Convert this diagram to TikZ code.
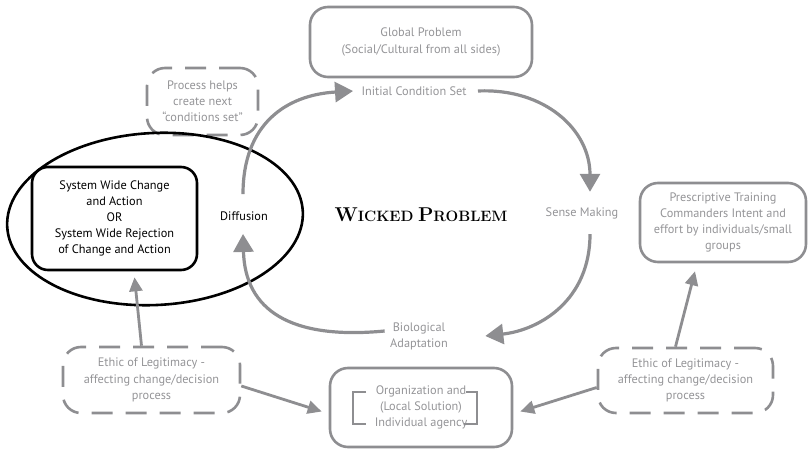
\documentclass[tikz,border=0pt]{standalone}
\usepackage{fontspec}
\setsansfont{PT Sans}
\usepackage{tikz}
\usetikzlibrary{arrows.meta, positioning, shapes.geometric}
\definecolor{linegray}{RGB}{142,142,145}
\definecolor{textgray}{RGB}{148,148,151}
\tikzset{
  graybox/.style={draw=linegray, line width=2.6pt, rounded corners=18pt, text=textgray, align=center, inner sep=0pt},
  dashbox/.style={graybox, dash pattern=on 21pt off 13pt},
  blackbox/.style={draw=black, line width=2.6pt, rounded corners=16pt, align=center, inner sep=0pt},
  cyclelabel/.style={text=textgray, align=center},
  bigflow/.style={draw=linegray, line width=3.2pt, -{Triangle[length=18pt,width=20pt]}},
  smallflow/.style={draw=linegray, line width=2.8pt, -{Triangle[length=14pt,width=13pt]}}
}
\begin{document}
\begin{tikzpicture}[x=1pt, y=-1pt, font=\sffamily\fontsize{12.3}{16.2}\selectfont]
        \useasboundingbox (0,0) rectangle (808,449);
        % Cycle boxes
        \node[graybox, minimum width=222pt, minimum height=70pt] (global) at (421,42) {Global Problem\\(Social/Cultural from all sides)};
        \node[graybox, minimum width=166pt, minimum height=79pt] (presc) at (723,222.5) {Prescriptive Training\\Commanders Intent and\\effort by individuals/small\\groups};
        \node[graybox, minimum width=182pt, minimum height=79pt] (org) at (421,407.5) {Organization and\\(Local Solution)\\Individual agency};
        \node[dashbox, minimum width=111pt, minimum height=67pt] (process) at (202.5,101.5) {Process helps\\create next\\``conditions set''};
        \node[dashbox, minimum width=177pt, minimum height=66pt] (ethicl) at (151.5,380) {Ethic of Legitimacy -\\affecting change/decision\\process};
        \node[dashbox, minimum width=175pt, minimum height=65pt] (ethicr) at (685.5,380.5) {Ethic of Legitimacy -\\affecting change/decision\\process};
        % Outcome inside the ellipse
        \node[draw, ellipse, line width=2.6pt, minimum width=296pt, minimum height=172pt, rotate=3] (scope) at (155,219) {};
        \node[blackbox, minimum width=165pt, minimum height=103pt] (outcome) at (114.5,218.5) {System Wide Change\\and Action\\OR\\System Wide Rejection\\of Change and Action};
        % Labels on the cycle
        \node[cyclelabel] (initial) at (414,91) {Initial Condition Set};
        \node[cyclelabel] (sense) at (582,213) {Sense Making};
        \node[cyclelabel] (bio) at (419,336) {Biological\\Adaptation};
        \node (diffusion) at (244,216) {Diffusion};
        \node (wicked) at (421,215) {\rmfamily\bfseries{\fontsize{20}{20}\selectfont W}{\fontsize{15}{15}\selectfont ICKED} {\fontsize{20}{20}\selectfont P}{\fontsize{15}{15}\selectfont ROBLEM}};
        % Brackets
        \draw[linegray, line width=2.6pt] (366,392) -- (353,392) -- (353,424) -- (366,424);
        \draw[linegray, line width=2.6pt] (466,392) -- (477,392) -- (477,424) -- (464,424);
        % Cycle arrows
        \draw[bigflow] (diffusion.north) ++(-1,-14) .. controls (243,125) and (285,95) .. ([xshift=-5pt]initial.west);
        \draw[bigflow] ([xshift=8pt]initial.east) .. controls (545,88) and (590,130) .. ([xshift=8pt, yshift=12pt]sense.north);
        \draw[bigflow] ([xshift=8pt, yshift=-12pt]sense.south) .. controls (590,300) and (540,330) .. ([xshift=34pt]bio.east);
        \draw[bigflow] ([xshift=-2pt, yshift=5pt]bio.west) .. controls (290,340) and (245,310) .. ([xshift=-1pt, yshift=-10pt]diffusion.south);
        % Ethic arrows
        \draw[smallflow] ([xshift=-10pt]ethicl.north) -- ([xshift=20pt, yshift=-6pt]outcome.south);
        \draw[smallflow] ([yshift=-6pt]ethicl.east) -- ([xshift=-7pt, yshift=-4pt]org.west);
        \draw[smallflow] ([yshift=-7pt]ethicr.west) -- ([xshift=7pt, yshift=-4pt]org.east);
        \draw[smallflow] ([xshift=-10pt]ethicr.north) -- ([xshift=-28pt, yshift=-8pt]presc.south);
    \end{tikzpicture}
\end{document}
